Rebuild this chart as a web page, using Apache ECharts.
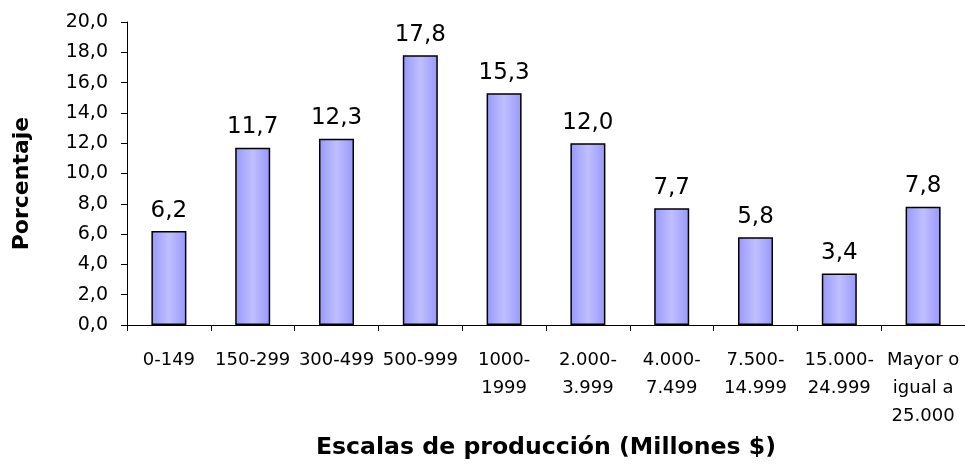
<!DOCTYPE html>
<html>
<head>
<meta charset="utf-8">
<script src="https://cdn.jsdelivr.net/npm/echarts@6/dist/echarts.min.js"></script>
<style>
html,body{margin:0;padding:0;background:#fff;}
#chart{width:965px;height:465px;}
</style>
</head>
<body>
<div id="chart"></div>
<script>
const categories = ['0-149', '150-299', '300-499', '500-999', '1000-\n1999', '2.000-\n3.999', '4.000-\n7.499', '7.500-\n14.999', '15.000-\n24.999', 'Mayor o\nigual a\n25.000'];
const values = [6.2, 11.7, 12.3, 17.8, 15.3, 12.0, 7.7, 5.8, 3.4, 7.8];
const yTicks = { min: 0, max: 20, interval: 2 };
const xName = 'Escalas de producción (Millones $)';
const yName = 'Porcentaje';

const fmt = v => Number(v).toFixed(1).replace('.', ',');
const FONT = '"DejaVu Sans", "Liberation Sans", Arial, sans-serif';

const chart = echarts.init(document.getElementById('chart'), null, { renderer: 'canvas' });
chart.setOption({
  animation: false,
  backgroundColor: '#ffffff',
  grid: { left: 127, right: 0, top: 22, bottom: 132, containLabel: false },
  xAxis: {
    type: 'category',
    data: categories,
    name: xName,
    nameLocation: 'middle',
    nameGap: 111,
    nameTextStyle: { fontFamily: FONT, fontWeight: 'bold', fontSize: 23.6, color: '#000' },
    axisLine: { lineStyle: { color: '#000', width: 1 } },
    axisTick: { show: true, alignWithLabel: false, length: 6, lineStyle: { color: '#000' } },
    axisLabel: { fontFamily: FONT, fontSize: 18, color: '#000', lineHeight: 28, margin: 21, interval: 0 }
  },
  yAxis: {
    type: 'value',
    min: yTicks.min,
    max: yTicks.max,
    interval: yTicks.interval,
    name: yName,
    nameLocation: 'middle',
    nameGap: 94,
    nameTextStyle: { fontFamily: FONT, fontWeight: 'bold', fontSize: 22, color: '#000', padding: [0, 20, 0, 0] },
    axisLine: { show: true, lineStyle: { color: '#000', width: 1 } },
    axisTick: { show: true, length: 6, lineStyle: { color: '#000' } },
    splitLine: { show: false },
    axisLabel: { fontFamily: FONT, fontSize: 19, color: '#000', margin: 19, formatter: fmt }
  },
  series: [{
    type: 'bar',
    data: values,
    barWidth: 35,
    itemStyle: {
      color: new echarts.graphic.LinearGradient(0, 0, 1, 0, [
        { offset: 0, color: '#9898fc' },
        { offset: 0.5, color: '#bfbfff' },
        { offset: 1, color: '#9898fc' }
      ]),
      borderColor: '#000',
      borderWidth: 1.5
    },
    label: {
      show: true,
      position: 'top',
      distance: 9,
      fontFamily: FONT,
      fontSize: 23,
      color: '#000',
      formatter: p => fmt(p.value)
    }
  }]
});
</script>
</body>
</html>
